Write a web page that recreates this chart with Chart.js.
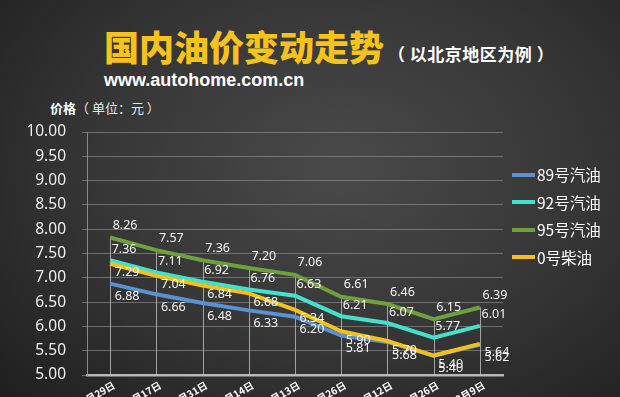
<!DOCTYPE html>
<html lang="zh">
<head>
    <meta charset="UTF-8">
    <title>国内油价变动走势</title>
    <script src="https://cdn.jsdelivr.net/npm/chart.js"></script>
    <style>
        html, body {
            margin: 0;
            padding: 0;
        }
        body {
            width: 620px;
            height: 397px;
            overflow: hidden;
            position: relative;
            background: radial-gradient(ellipse 75% 85% at 55% 42%, #4a4a4a 0%, #353535 55%, #1f1f1f 100%);
            font-family: "Noto Sans CJK SC", "Noto Sans", sans-serif;
            color: #fff;
        }
        .title {
            position: absolute;
            left: 104px;
            top: 22px;
            font-size: 35px;
            font-weight: 900;
            color: #f6c21c;
            white-space: nowrap;
            line-height: 48px;
        }
        .title small {
            font-size: 17px;
            font-weight: 700;
            color: #fff;
            margin-left: 4px;
            letter-spacing: 0.5px;
        }
        .site {
            position: absolute;
            left: 104px;
            top: 70px;
            font-family: "Liberation Sans", Arial, sans-serif;
            font-size: 18px;
            font-weight: 700;
            color: #fff;
        }
        .unit {
            position: absolute;
            left: 50px;
            top: 98px;
            font-size: 13px;
            color: #e8e8e8;
            white-space: nowrap;
        }
        .unit b {
            font-weight: 700;
            color: #fff;
        }
        .chart-box {
            position: absolute;
            left: 0;
            top: 0;
            width: 620px;
            height: 430px;
        }
        .legend {
            position: absolute;
            left: 512px;
            top: 162px;
        }
        .legend div {
            height: 27.5px;
            line-height: 24px;
            font-size: 15.5px;
            white-space: nowrap;
        }
        .legend span {
            display: inline-block;
            width: 23px;
            height: 4px;
            vertical-align: middle;
            margin-right: 2px;
            position: relative;
            top: -2px;
        }
    </style>
</head>
<body>
    <div class="title">国内油价变动走势<small>（ 以北京地区为例 ）</small></div>
    <div class="site">www.autohome.com.cn</div>
    <div class="unit"><b>价格</b>（ 单位：元 ）</div>

    <div class="chart-box">
        <canvas id="oilChart"></canvas>
    </div>
    <div class="legend" id="legend"></div>

    <script>
        // Datos
        const categories = ['9月29日', '10月17日', '10月31日', '11月14日', '12月13日', '12月26日', '1月12日', '1月26日', '2月9日'];
        const seriesNames = ['89号汽油', '92号汽油', '95号汽油', '0号柴油'];
        const price89 = [6.88, 6.66, 6.48, 6.33, 6.20, 5.81, 5.68, 5.40, 5.62];
        const price92 = [7.36, 7.11, 6.92, 6.76, 6.63, 6.21, 6.07, 5.77, 6.01];
        const price95 = [7.83, 7.57, 7.36, 7.20, 7.06, 6.61, 6.46, 6.15, 6.39];
        const price0 = [7.29, 7.04, 6.84, 6.68, 6.34, 5.90, 5.70, 5.40, 5.64];
        // etiquetas impresas en la imagen (la primera del 95 no coincide con la línea)
        const labels95 = ['8.26', '7.57', '7.36', '7.20', '7.06', '6.61', '6.46', '6.15', '6.39'];
        const yTicks = [5, 5.5, 6, 6.5, 7, 7.5, 8, 8.5, 9, 9.5, 10];

        const colors = ['#5a91d0', '#45e0cc', '#6ea03e', '#f3c11e'];
        const labelOffsets = [
            { dx: 17, dy: 13 },
            { dx: 14, dy: -11 },
            { dx: 15, dy: -12 },
            { dx: 17, dy: 9 }
        ];

        // Leyenda
        const legendBox = document.getElementById('legend');
        seriesNames.forEach((name, i) => {
            legendBox.innerHTML += `<div><span style="background:${colors[i]}"></span>${name}</div>`;
        });

        // Líneas verticales desde el punto más alto hasta el eje
        const dropLines = {
            id: 'dropLines',
            beforeDatasetsDraw(chart) {
                const ctx = chart.ctx;
                const bottom = chart.chartArea.bottom;
                ctx.save();
                ctx.strokeStyle = 'rgba(200,200,200,0.75)';
                ctx.lineWidth = 1;
                categories.forEach((c, i) => {
                    let minY = bottom;
                    let x = 0;
                    chart.data.datasets.forEach((ds, d) => {
                        const pt = chart.getDatasetMeta(d).data[i];
                        if (pt.y < minY) minY = pt.y;
                        x = pt.x;
                    });
                    ctx.beginPath();
                    ctx.moveTo(Math.round(x) + 0.5, minY);
                    ctx.lineTo(Math.round(x) + 0.5, bottom);
                    ctx.stroke();
                });
                ctx.restore();
            }
        };

        // Etiquetas de datos
        const dataLabels = {
            id: 'dataLabels',
            afterDatasetsDraw(chart) {
                const ctx = chart.ctx;
                ctx.save();
                ctx.font = '12.5px "Noto Sans", sans-serif';
                ctx.fillStyle = '#f4f4f4';
                ctx.textAlign = 'center';
                ctx.textBaseline = 'middle';
                chart.data.datasets.forEach((ds, d) => {
                    const meta = chart.getDatasetMeta(d);
                    meta.data.forEach((pt, i) => {
                        const txt = ds.printed ? ds.printed[i] : ds.data[i].toFixed(2);
                        ctx.fillText(txt, pt.x + labelOffsets[d].dx, pt.y + labelOffsets[d].dy);
                    });
                });
                ctx.restore();
            }
        };

        const seriesData = [price89, price92, price95, price0];
        const drawOrder = [4, 3, 2, 1];

        new Chart(document.getElementById('oilChart'), {
            type: 'line',
            data: {
                labels: categories,
                datasets: seriesData.map((values, i) => ({
                    label: seriesNames[i],
                    data: values,
                    printed: i === 2 ? labels95 : null,
                    borderColor: colors[i],
                    backgroundColor: colors[i],
                    borderWidth: 4,
                    pointRadius: 0,
                    tension: 0,
                    order: drawOrder[i]
                }))
            },
            options: {
                responsive: true,
                maintainAspectRatio: false,
                animation: false,
                layout: {
                    padding: { top: 132, right: 117, left: 0, bottom: 0 }
                },
                plugins: {
                    legend: { display: false },
                    tooltip: { enabled: false }
                },
                scales: {
                    x: {
                        offset: true,
                        grid: { display: false },
                        border: { color: '#b8b8b8', width: 2.5 },
                        ticks: {
                            color: '#ffffff',
                            font: { size: 10, weight: 'bold', family: '"Noto Sans CJK SC", sans-serif' },
                            minRotation: 30,
                            maxRotation: 30,
                            padding: -4,
                            labelOffset: 4
                        },
                        afterFit(scale) {
                            scale.height = 55;
                        }
                    },
                    y: {
                        min: 5,
                        max: 10,
                        afterBuildTicks(scale) {
                            scale.ticks = yTicks.map(v => ({ value: v }));
                        },
                        grid: {
                            color: 'rgba(150,150,150,0.6)',
                            lineWidth: 1,
                            tickLength: 5
                        },
                        border: { color: '#8a8a8a', width: 1 },
                        ticks: {
                            color: '#eeeeee',
                            padding: 16,
                            font: { size: 15.5, family: '"Noto Sans", sans-serif' },
                            callback: v => v.toFixed(2)
                        },
                        afterFit(scale) {
                            scale.width = 87;
                        }
                    }
                }
            },
            plugins: [dropLines, dataLabels]
        });
    </script>
</body>
</html>
